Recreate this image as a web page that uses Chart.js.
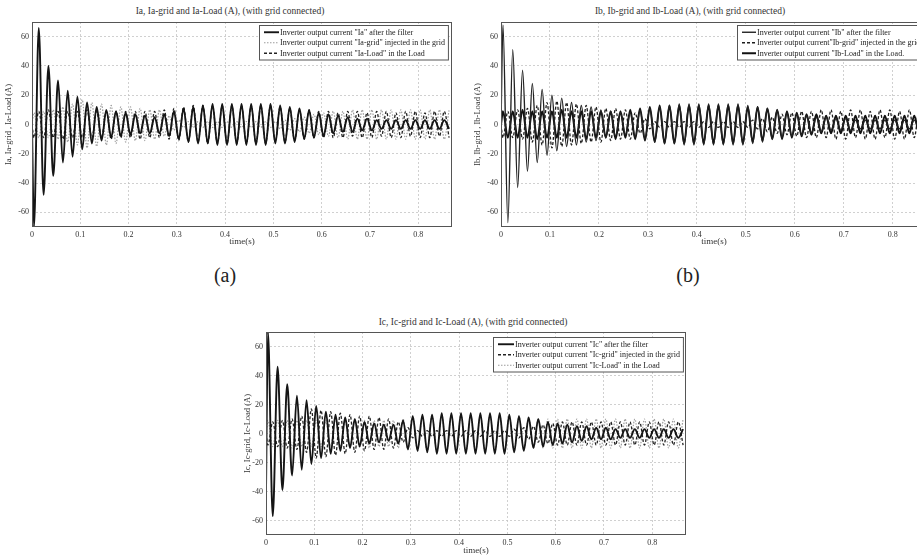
<!DOCTYPE html>
<html>
<head>
<meta charset="utf-8">
<script src="https://cdn.jsdelivr.net/npm/chart.js@4.4.1/dist/chart.umd.min.js"></script>
<style>
  html, body { margin: 0; padding: 0; background: #fff; }
  body { width: 917px; height: 557px; position: relative; overflow: hidden; font-family: "Liberation Serif", "DejaVu Serif", serif; color: #333; }
  .plot { position: absolute; }
  .ttl { position: absolute; font-size: 9.5px; white-space: nowrap; transform: translateX(-50%); color: #333; }
  .tag { position: absolute; font-size: 20px; transform: translateX(-50%); color: #222; }
</style>
</head>
<body>
<div class="ttl" style="left:230px; top:6px;">Ia, Ia-grid and Ia-Load (A), (with grid connected)</div>
<div class="ttl" style="left:690px; top:6px;">Ib, Ib-grid and Ib-Load (A), (with grid connected)</div>
<div class="ttl" style="left:473px; top:317px;">Ic, Ic-grid and Ic-Load (A), (with grid connected)</div>
<div class="tag" style="left:225px; top:264px;">(a)</div>
<div class="tag" style="left:688px; top:264px;">(b)</div>

<div class="plot" style="left:0px; top:14px;"><canvas id="chartA" width="460" height="235"></canvas></div>
<div class="plot" style="left:460px; top:14px;"><canvas id="chartB" width="475" height="235"></canvas></div>
<div class="plot" style="left:235px; top:324px;"><canvas id="chartC" width="459" height="234"></canvas></div>

<script>
// temps des extrema (s) (période ~0.02 s)
const timeS = [
  0, 0.004, 0.014, 0.024, 0.034, 0.044, 0.054, 0.064, 0.074, 0.084,
  0.094, 0.104, 0.114, 0.124, 0.134, 0.144, 0.154, 0.164, 0.174, 0.184,
  0.194, 0.204, 0.214, 0.224, 0.234, 0.244, 0.254, 0.264, 0.274, 0.284,
  0.294, 0.304, 0.314, 0.324, 0.334, 0.344, 0.354, 0.364, 0.374, 0.384,
  0.394, 0.404, 0.414, 0.424, 0.434, 0.444, 0.454, 0.464, 0.474, 0.484,
  0.494, 0.504, 0.514, 0.524, 0.534, 0.544, 0.554, 0.564, 0.574, 0.584,
  0.594, 0.604, 0.614, 0.624, 0.634, 0.644, 0.654, 0.664, 0.674, 0.684,
  0.694, 0.704, 0.714, 0.724, 0.734, 0.744, 0.754, 0.764, 0.774, 0.784,
  0.794, 0.804, 0.814, 0.824, 0.834, 0.844, 0.854, 0.864
];

const xTicks = [0, 0.1, 0.2, 0.3, 0.4, 0.5, 0.6, 0.7, 0.8];
const xTickLabels = ['0', '0.1', '0.2', '0.3', '0.4', '0.5', '0.6', '0.7', '0.8'];
const yTicks = [-60, -40, -20, 0, 20, 40, 60];
const yTickLabels = ['-60', '-40', '-20', '0', '20', '40', '60'];

// (a) phase a
const ia = [
  0, -70, 66, -48, 40, -35, 30, -26, 23, -22,
  19, -17, 15, -13, 12, -11, 10, -9, 9, -8,
  8, -7, 7, -6, 6, -6, 5, -6, 7, -8,
  9, -10, 11, -12, 12, -13, 13, -13, 14, -14,
  14, -14, 14, -14, 14, -14, 14, -14, 14, -14,
  14, -13, 13, -13, 12, -12, 11, -10, 10, -9,
  8, -8, 7, -6, 6, -5, 5, -5, 4, -4,
  4, -4, 3, -3, 3, -3, 3, -3, 3, -3,
  3, -3, 3, -3, 3, -3, 3, -3
];
const iaGrid = [
  0, 8, -9, 9, -9, 10, -10, 12, -12, 14,
  -14, 17, -16, 15, -15, 14, -14, 13, -13, 12,
  -12, 12, -11, 11, -11, 10, -10, 10, -8, 6,
  -4, 3, -2, 2, -2, 2, -2, 2, -2, 2,
  -2, 2, -2, 2, -2, 2, -2, 2, -2, 2,
  -2, 2, -3, 3, -4, 4, -5, 5, -6, 7,
  -7, 8, -8, 9, -9, 9, -10, 10, -10, 10,
  -10, 10, -10, 10, -10, 10, -10, 10, -10, 10,
  -10, 10, -10, 10, -10, 10, -10, 10
];
const iaLoad = [
  0, -9, 9, -9, 10, -9, 9, -10, 9, -9,
  9, -9, 10, -9, 9, -9, 9, -10, 9, -9,
  9, -9, 9, -10, 9, -9, 9, -9, 10, -10,
  11, -11, 12, -12, 13, -12, 13, -13, 13, -13,
  13, -13, 13, -13, 13, -13, 13, -13, 13, -13,
  13, -12, 12, -12, 11, -11, 10, -10, 10, -9,
  9, -9, 9, -9, 8, -9, 9, -8, 9, -9,
  8, -9, 9, -8, 9, -9, 8, -9, 9, -8,
  9, -9, 8, -9, 9, -8, 9, -9
];

// (b) phase b
const ib = [
  0, 68, -67, 51, -43, 37, -32, 28, -26, 24,
  -21, 20, -18, 18, -15, 15, -14, 13, -12, 12,
  -11, 10, -9, 9, -8, 8, -7, 8, -9, 10,
  -10, 11, -12, 12, -13, 13, -13, 14, -14, 14,
  -14, 14, -14, 14, -14, 14, -14, 14, -14, 14,
  -14, 13, -13, 12, -12, 11, -10, 10, -9, 8,
  -8, 7, -7, 6, -6, 5, -5, 5, -4, 4,
  -4, 4, -4, 3, -3, 3, -3, 3, -3, 3,
  -3, 3, -3, 3, -3, 3, -3, 3
];
const ibGrid = [
  0, -9, 9, -9, 10, -10, 11, -12, 13, -14,
  15, -16, 16, -15, 15, -14, 14, -13, 13, -12,
  12, -12, 11, -11, 11, -10, 10, -10, 8, -6,
  4, -3, 2, -2, 2, -2, 2, -2, 2, -2,
  2, -2, 2, -2, 2, -2, 2, -2, 2, -2,
  2, -2, 3, -3, 4, -5, 5, -6, 7, -7,
  8, -8, 9, -9, 9, -9, 10, -9, 10, -10,
  9, -10, 10, -9, 10, -10, 9, -10, 10, -9,
  10, -10, 9, -10, 10, -9, 10, -10
];
const ibLoad = [
  0, 9, -9, 9, -9, 10, -9, 9, -10, 9,
  -9, 9, -9, 10, -9, 9, -9, 9, -10, 9,
  -9, 9, -9, 9, -10, 9, -9, 10, -10, 11,
  -11, 12, -12, 13, -13, 13, -13, 13, -13, 13,
  -13, 13, -13, 13, -13, 13, -13, 13, -13, 13,
  -13, 12, -12, 12, -11, 11, -10, 10, -10, 9,
  -9, 8, -8, 7, -7, 7, -6, 6, -6, 6,
  -6, 6, -6, 6, -6, 6, -6, 6, -6, 6,
  -6, 6, -6, 6, -6, 6, -6, 6
];

// (c) phase c
const ic = [
  -40, 70, -57, 46, -39, 34, -29, 26, -25, 23,
  -21, 19, -17, 15, -14, 13, -12, 11, -10, 10,
  -9, 8, -7, 7, -6, 6, -5, 6, -7, 9,
  -11, 12, -12, 13, -13, 13, -14, 14, -14, 14,
  -14, 14, -14, 14, -14, 14, -14, 14, -14, 14,
  -14, 13, -13, 12, -12, 11, -10, 10, -9, 8,
  -8, 7, -7, 6, -6, 5, -5, 5, -4, 4,
  -4, 4, -4, 3, -3, 3, -3, 3, -3, 3,
  -3, 3, -3, 3, -3, 3, -3, 3
];
const icGrid = [
  0, -8, 8, -9, 9, -10, 10, -11, 12, -13,
  17, -17, 16, -16, 15, -15, 14, -14, 13, -13,
  12, -12, 12, -11, 11, -11, 10, -10, 8, -6,
  4, -3, 2, -2, 2, -2, 2, -2, 2, -2,
  2, -2, 2, -2, 2, -2, 2, -2, 2, -2,
  2, -2, 3, -3, 4, -4, 5, -6, 6, -7,
  7, -8, 8, -8, 8, -8, 8, -8, 8, -8,
  8, -8, 8, -8, 8, -8, 8, -8, 8, -8,
  8, -8, 8, -8, 8, -8, 8, -8
];
const icLoad = [
  0, 9, -9, 9, -9, 9, -10, 9, -9, 9,
  -9, 9, -9, 9, -9, 10, -9, 9, -9, 9,
  -9, 9, -10, 9, -9, 9, -9, 9, -10, 10,
  -11, 12, -12, 12, -13, 13, -13, 13, -13, 13,
  -13, 13, -13, 13, -13, 13, -13, 13, -13, 13,
  -13, 12, -12, 12, -11, 11, -10, 10, -10, 10,
  -10, 10, -10, 10, -10, 10, -10, 10, -10, 10,
  -10, 10, -10, 10, -10, 10, -10, 10, -10, 10,
  -10, 10, -10, 10, -10, 10, -10, 10
];

const serif = '"Liberation Serif", "DejaVu Serif", serif';
const textColor = '#333';

// cadre + légende dans la zone de tracé (style MATLAB)
const boxLegend = {
    id: 'boxLegend',
    afterDatasetsDraw(chart, args, opts) {
        const { ctx, chartArea: a } = chart;
        ctx.save();
        ctx.setLineDash([]);
        ctx.strokeStyle = '#555';
        ctx.lineWidth = 1;
        ctx.strokeRect(a.left + 0.5, a.top + 0.5, a.right - a.left - 1, a.bottom - a.top - 1);

        ctx.font = '8px ' + serif;
        const sets = chart.data.datasets;
        const textW = Math.max(...sets.map((d) => ctx.measureText(d.label).width));
        const w = 5 + opts.sample + 1 + textW + 3;
        const h = sets.length * opts.rowH + 3;
        const x0 = Math.round(a.right - opts.right - w);
        const y0 = Math.round(a.top + opts.top);
        ctx.fillStyle = '#fff';
        ctx.fillRect(x0, y0, w, h);
        ctx.strokeStyle = '#555';
        ctx.strokeRect(x0 + 0.5, y0 + 0.5, w, h);
        sets.forEach((d, i) => {
            const y = y0 + 2 + opts.rowH * (i + 0.5);
            ctx.strokeStyle = d.borderColor;
            ctx.lineWidth = d.borderWidth;
            ctx.setLineDash(d.borderDash || []);
            ctx.beginPath();
            ctx.moveTo(x0 + 5, y);
            ctx.lineTo(x0 + 5 + opts.sample, y);
            ctx.stroke();
            ctx.fillStyle = '#222';
            ctx.textBaseline = 'middle';
            ctx.textAlign = 'left';
            ctx.fillText(d.label, x0 + 6 + opts.sample, y + 0.5);
        });
        ctx.restore();
    }
};

function toPoints(values) {
    return timeS.map((t, i) => ({ x: t, y: values[i] }));
}

function series(label, values, color, width, dash, order) {
    return {
        label: label,
        data: toPoints(values),
        borderColor: color,
        borderWidth: width,
        borderDash: dash,
        pointRadius: 0,
        cubicInterpolationMode: 'monotone',
        fill: false,
        order: order
    };
}

function makePlot(id, datasets, yTitle, g) {
    const ctx = document.getElementById(id);
    return new Chart(ctx, {
        type: 'line',
        data: { datasets: datasets },
        plugins: [boxLegend],
        options: {
            responsive: false,
            devicePixelRatio: 1,
            animation: false,
            layout: { padding: { top: 8, right: 8, left: 0, bottom: 0 } },
            plugins: {
                legend: { display: false },
                tooltip: { enabled: false },
                boxLegend: g.legend
            },
            scales: {
                x: {
                    type: 'linear',
                    min: 0,
                    max: 0.87,
                    afterBuildTicks: (s) => { s.ticks = xTicks.map((v) => ({ value: v })); },
                    afterFit: (s) => { s.height = g.xh; },
                    grid: { color: '#c4c4c4', lineWidth: 0.8, drawTicks: false },
                    border: { display: false, dash: [2, 2] },
                    ticks: {
                        autoSkip: false,
                        maxRotation: 0,
                        padding: 3,
                        color: textColor,
                        font: { family: serif, size: 8 },
                        callback: (v, i) => xTickLabels[i]
                    },
                    title: {
                        display: true,
                        text: 'time(s)',
                        color: textColor,
                        font: { family: serif, size: 9 },
                        padding: { top: 0, bottom: 2 }
                    }
                },
                y: {
                    type: 'linear',
                    min: -70,
                    max: 70,
                    afterBuildTicks: (s) => { s.ticks = yTicks.map((v) => ({ value: v })); },
                    afterFit: (s) => { s.width = g.yw; },
                    grid: { color: '#c4c4c4', lineWidth: 0.8, drawTicks: false },
                    border: { display: false, dash: [2, 2] },
                    ticks: {
                        padding: 3,
                        color: textColor,
                        font: { family: serif, size: 8 },
                        callback: (v, i) => yTickLabels[i]
                    },
                    title: {
                        display: true,
                        text: yTitle,
                        color: textColor,
                        font: { family: serif, size: 8.5 },
                        padding: { top: g.yt, bottom: 0 }
                    }
                }
            }
        }
    });
}

makePlot('chartA', [
    series('Inverter output current "Ia" after the filter', ia, '#151515', 1.9, [], 0),
    series('Inverter output current "Ia-grid" injected in the grid', iaGrid, '#9c9c9c', 1.2, [1.5, 1.5], 3),
    series('Inverter output current "Ia-Load" in the Load', iaLoad, '#222', 1.3, [3, 2], 1)
], 'Ia, Ia-grid , Ia-Load (A)', { yw: 32, xh: 22, yt: 4, legend: { top: 3, right: 4, sample: 15, rowH: 10.5 } });

makePlot('chartB', [
    series('Inverter output current "Ib" after the filter', ib, '#222', 1.4, [], 0),
    series('Inverter output current"Ib-grid" injected in the grid', ibGrid, '#1e1e1e', 1.3, [3, 2], 2),
    series('Inverter output current "Ib-Load" in the Load.', ibLoad, '#111', 2, [], 1)
], 'Ib, Ib-grid , Ib-Load (A)', { yw: 41, xh: 22, yt: 13, legend: { top: 3, right: 4, sample: 14, rowH: 10.5 } });

makePlot('chartC', [
    series('Inverter output current "Ic" after the filter', ic, '#151515', 1.9, [], 0),
    series('Inverter output current "Ic-grid" injected in the grid', icGrid, '#222', 1.3, [3, 2], 1),
    series('Inverter output current "Ic-Load" in the Load', icLoad, '#9c9c9c', 1.2, [1.5, 1.5], 3)
], 'Ic, Ic-grid, Ic-Load (A)', { yw: 31, xh: 23, yt: 8, legend: { top: 5, right: 3, sample: 16, rowH: 10.5 } });
</script>
</body>
</html>
